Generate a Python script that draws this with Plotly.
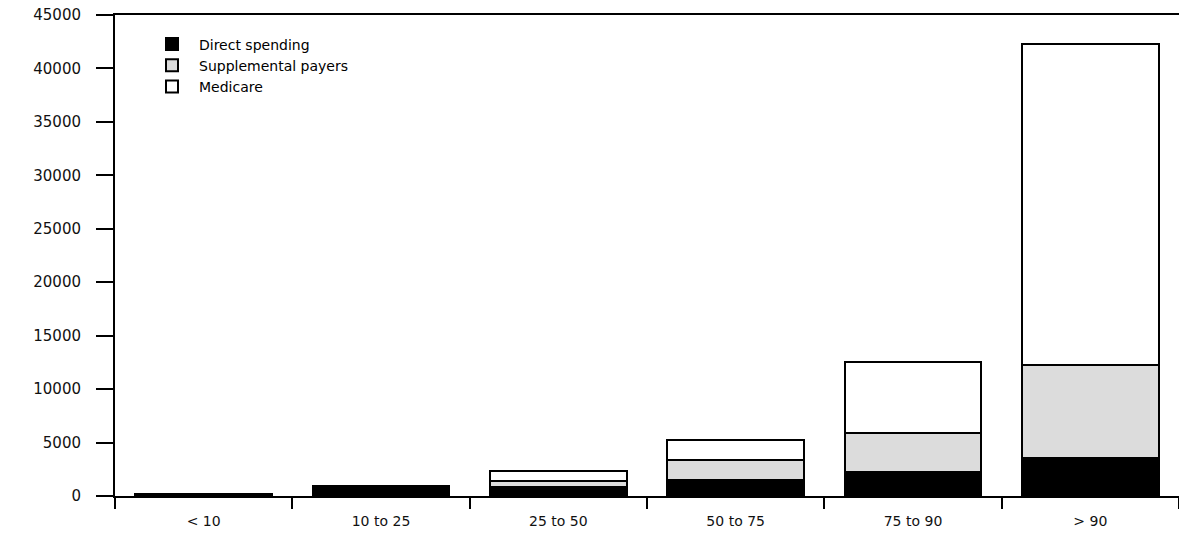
import plotly.graph_objects as go

categories = ["< 10", "10 to 25", "25 to 50", "50 to 75", "75 to 90", "> 90"]
direct_spending = [210, 920, 800, 1500, 2230, 3570]
supplemental_payers = [0, 0, 650, 1870, 3640, 8640]
medicare = [0, 0, 850, 1870, 6710, 30090]
y_ticks = [0, 5000, 10000, 15000, 20000, 25000, 30000, 35000, 40000, 45000]

fig = go.Figure()
for name, vals, color in [
    ("Direct spending", direct_spending, "#000000"),
    ("Supplemental payers", supplemental_payers, "#DCDCDC"),
    ("Medicare", medicare, "#FFFFFF"),
]:
    fig.add_trace(go.Bar(
        x=categories, y=vals, name=name,
        marker=dict(color=color, line=dict(color="#000000", width=2)),
    ))

fig.update_layout(
    width=1179, height=533,
    barmode="stack", bargap=0.23,
    plot_bgcolor="white", paper_bgcolor="white",
    margin=dict(l=115, r=0, t=15, b=37, autoexpand=False),
    font=dict(family="DejaVu Sans, Arial, sans-serif", size=13, color="#111111"),
    legend=dict(
        x=0.0282, y=0.972, xanchor="left", yanchor="top",
        traceorder="normal", bgcolor="rgba(0,0,0,0)",
        font=dict(size=14, color="#000000"),
        itemwidth=44,
    ),
    showlegend=True,
)
fig.update_xaxes(
    type="category", range=[-0.5, 5.5],
    showline=True, linecolor="#000000", linewidth=2, mirror=True,
    ticks="outside", ticklen=11, tickwidth=2, tickcolor="#000000",
    tickson="boundaries", showgrid=False, ticklabelstandoff=11,
    tickfont=dict(size=14),
)
fig.update_yaxes(
    range=[0, 45000], tickvals=y_ticks, ticktext=[str(v) for v in y_ticks],
    showline=True, linecolor="#000000", linewidth=2,
    ticks="outside", ticklen=17, tickwidth=2, tickcolor="#000000",
    ticklabelstandoff=12, showgrid=False, zeroline=False,
    ticklabeloverflow="allow",
    tickfont=dict(size=15),
)

# remove the browser's default 8px body margin so the figure fills the window
fig.write_html(
    "out.html",
    config={"displayModeBar": False},
    post_script="document.body.style.margin='0';",
)
